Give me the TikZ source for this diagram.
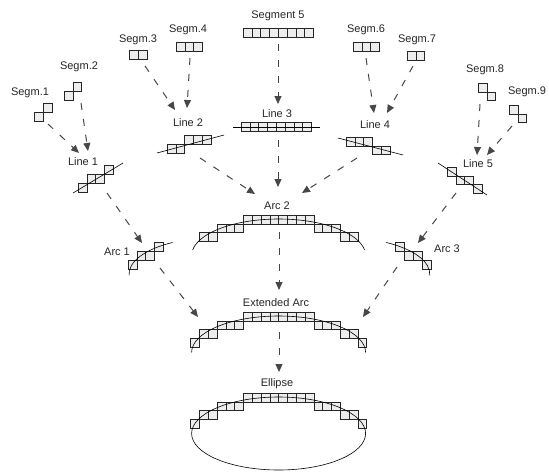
\documentclass[tikz,border=0pt]{standalone}
\usepackage{fontspec}
\setmainfont{Liberation Sans}
\usetikzlibrary{arrows.meta}
\newcommand\sqrow[3]{\foreach \i in {1,...,#3}{\draw[sq] ({#1+(\i-1)*8.8},{#2}) rectangle ++(8.8,8.8);}}
\begin{document}
\begin{tikzpicture}[x=1pt,y=-1pt,
  sq/.style={draw=black!85,fill=black!7,line width=0.6pt},
  ln/.style={draw=black,line width=0.6pt},
  arr/.style={draw=black!72,line width=1pt,dash pattern=on 7pt off 9pt,-{Triangle[length=8pt,width=7pt]}},
  lbl/.style={font=\fontsize{11}{13}\selectfont,text=black!85,inner sep=0pt,anchor=base}]
\useasboundingbox (0,0) rectangle (549,472);

% ---------- labels ----------
\node[lbl] (ts1) at (30,95) {Segm.1};
\node[lbl] (ts2) at (79,69) {Segm.2};
\node[lbl] (ts3) at (138,42) {Segm.3};
\node[lbl] (ts4) at (188,32) {Segm.4};
\node[lbl] (ts5) at (278,18) {Segment 5};
\node[lbl] (ts6) at (366,32) {Segm.6};
\node[lbl] (ts7) at (417,42) {Segm.7};
\node[lbl] (ts8) at (485,72) {Segm.8};
\node[lbl] (ts9) at (527,94) {Segm.9};
\node[lbl] (tl1) at (83,165) {Line 1};
\node[lbl] (tl2) at (188,126) {Line 2};
\node[lbl] (tl3) at (277,117) {Line 3};
\node[lbl] (tl4) at (375,128) {Line 4};
\node[lbl] (tl5) at (478,167) {Line 5};
\node[lbl] (ta1) at (117,255) {Arc 1};
\node[lbl] (ta2) at (277,209) {Arc 2};
\node[lbl] (ta3) at (447,252) {Arc 3};
\node[lbl] (tea) at (276,306) {Extended Arc};
\node[lbl] (tel) at (277,386) {Ellipse};

% ---------- segments ----------
\sqrow{34.4}{112.2}{1}\sqrow{43.2}{103.4}{1}
\sqrow{64}{91}{1}\sqrow{72.8}{82.2}{1}
\sqrow{129.5}{50}{2}
\sqrow{176}{42}{3}
\sqrow{243}{28}{8}
\sqrow{353}{42}{3}
\sqrow{407}{51}{2}
\sqrow{478}{83}{1}\sqrow{486.8}{91.8}{1}
\sqrow{509}{105}{1}\sqrow{517.8}{113.8}{1}

% ---------- lines ----------
\sqrow{78}{183}{1}\sqrow{86.8}{174.2}{2}\sqrow{104.4}{165.4}{1}
\draw[ln] (73,193) -- (123,163);
\sqrow{167}{144}{2}\sqrow{184.6}{135.2}{3}
\draw[ln] (157,153) -- (224,135);
\sqrow{241}{122}{8}
\draw[ln] (233,127) -- (320,127);
\sqrow{346}{137}{3}\sqrow{372.4}{145.8}{2}
\draw[ln] (338,138) -- (403,155);
\sqrow{447}{167}{1}\sqrow{455.8}{175.8}{2}\sqrow{473.4}{184.6}{1}
\draw[ln] (438,163) -- (487,195);

% ---------- arcs ----------
\sqrow{128}{260}{1}\sqrow{136.8}{251.2}{2}\sqrow{154.4}{242.4}{1}
\draw[ln] ([shift={(178:87 and 36.5)}]216,274.1) arc[start angle=178,end angle=240,x radius=87,y radius=36.5];
\sqrow{395.6}{242.4}{1}\sqrow{404.4}{251.2}{2}\sqrow{422}{260}{1}
\draw[ln] ([shift={(300:87 and 36.5)}]342.8,274.1) arc[start angle=300,end angle=362,x radius=87,y radius=36.5];

\sqrow{243.4}{215}{8}
\sqrow{217}{223.8}{3}\sqrow{313.8}{223.8}{3}
\sqrow{199.4}{232.6}{2}\sqrow{340.2}{232.6}{2}
\draw[ln] ([shift={(188.7:87 and 36.5)}]278.6,255.5) arc[start angle=188.7,end angle=351.3,x radius=87,y radius=36.5];

\sqrow{243.4}{312}{8}
\sqrow{217}{320.8}{3}\sqrow{313.8}{320.8}{3}
\sqrow{199.4}{329.6}{2}\sqrow{340.2}{329.6}{2}
\sqrow{190.6}{338.4}{1}\sqrow{357.8}{338.4}{1}
\draw[ln] ([shift={(180:87 and 36.5)}]278.6,352.5) arc[start angle=180,end angle=360,x radius=87,y radius=36.5];

\sqrow{243.4}{393}{8}
\sqrow{217}{401.8}{3}\sqrow{313.8}{401.8}{3}
\sqrow{199.4}{410.6}{2}\sqrow{340.2}{410.6}{2}
\sqrow{190.6}{419.4}{1}\sqrow{357.8}{419.4}{1}
\draw[ln] (278.6,433.5) ellipse[x radius=87,y radius=36.5];

% ---------- connector ends ----------
\coordinate (a1s) at (48,124);  \coordinate (a1e) at (79,153);
\coordinate (a2s) at (81,103);  \coordinate (a2e) at (88,151);
\coordinate (a3s) at (145,66);  \coordinate (a3e) at (175,110);
\coordinate (a4s) at (190,58);  \coordinate (a4e) at (187,108);
\coordinate (a5s) at (278,44);  \coordinate (a5e) at (278,104);
\coordinate (a6s) at (366,58);  \coordinate (a6e) at (374,113);
\coordinate (a7s) at (413,66);  \coordinate (a7e) at (387,113);
\coordinate (a8s) at (480,104); \coordinate (a8e) at (477,155);
\coordinate (a9s) at (512,126); \coordinate (a9e) at (487,155);
\coordinate (b1s) at (107,193); \coordinate (b1e) at (142,243);
\coordinate (b2s) at (200,158); \coordinate (b2e) at (255,194);
\coordinate (b3s) at (278,140); \coordinate (b3e) at (278,187);
\coordinate (b4s) at (357,158); \coordinate (b4e) at (302,193);
\coordinate (b5s) at (456,193); \coordinate (b5e) at (418,243);
\coordinate (c1s) at (279,232); \coordinate (c1e) at (279,290);
\coordinate (c2s) at (160,268); \coordinate (c2e) at (198,317);
\coordinate (c3s) at (397,267); \coordinate (c3e) at (363,317);
\coordinate (d1s) at (279,332); \coordinate (d1e) at (279,372);

\foreach \p in {a1,a2,a3,a4,a5,a6,a7,a8,a9,b1,b2,b3,b4,b5,c1,c2,c3,d1}
  \draw[arr] (\p s) -- (\p e);
\end{tikzpicture}
\end{document}
